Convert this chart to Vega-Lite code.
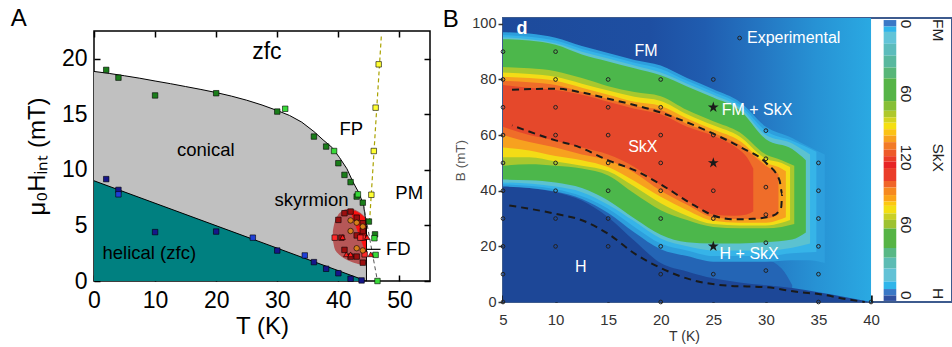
{
  "$schema": "https://vega.github.io/schema/vega-lite/v6.json",
  "background": "white",
  "padding": {"left": 10, "top": 6, "right": 0, "bottom": 0},
  "spacing": 9,
  "title": {"text": "A", "anchor": "start", "frame": "bounds", "fontSize": 24, "fontWeight": "normal", "offset": -24, "dx": -14, "color": "#000"},
  "config": {"font": "Liberation Sans", "view": {"stroke": null}, "axis": {"grid": false, "domain": false, "zindex": 1}},
  "datasets": {
    "bands": [
      {"lv":"m","T":5,"hi":43,"lo":0},{"lv":"m","T":10,"hi":41,"lo":0},{"lv":"m","T":12.5,"hi":38,"lo":0},{"lv":"m","T":15,"hi":33,"lo":0},{"lv":"m","T":17.5,"hi":27,"lo":0},{"lv":"m","T":20,"hi":20,"lo":0},{"lv":"m","T":22.5,"hi":17,"lo":0},{"lv":"m","T":25,"hi":15,"lo":0},{"lv":"m","T":27.5,"hi":15,"lo":0},{"lv":"m","T":30,"hi":15,"lo":0},{"lv":"m","T":31.5,"hi":12,"lo":0},{"lv":"m","T":32.5,"hi":6,"lo":0},
      {"lv":"H","T":5,"hi":42,"lo":0},{"lv":"H","T":7.5,"hi":41,"lo":0},{"lv":"H","T":10,"hi":39.5,"lo":0},{"lv":"H","T":12.5,"hi":36.5,"lo":0},{"lv":"H","T":15,"hi":30.5,"lo":0},{"lv":"H","T":17.5,"hi":22,"lo":0},{"lv":"H","T":20,"hi":14,"lo":0},{"lv":"H","T":22.5,"hi":11,"lo":0},{"lv":"H","T":25,"hi":8.5,"lo":0},{"lv":"H","T":27.5,"hi":7,"lo":0},{"lv":"H","T":30,"hi":6,"lo":0},{"lv":"H","T":32.5,"hi":5,"lo":0},{"lv":"H","T":35,"hi":3.5,"lo":0},{"lv":"H","T":37.5,"hi":1.8,"lo":0},{"lv":"H","T":40,"hi":0,"lo":0},
      {"lv":"h1","T":5,"hi":97,"lo":41.5},{"lv":"h1","T":7.5,"hi":96.5,"lo":41},{"lv":"h1","T":10,"hi":95,"lo":39.7},{"lv":"h1","T":12.5,"hi":92,"lo":37},{"lv":"h1","T":15,"hi":89.5,"lo":32},{"lv":"h1","T":17.5,"hi":87,"lo":25},{"lv":"h1","T":20,"hi":85,"lo":19},{"lv":"h1","T":22.5,"hi":80.5,"lo":16.5},{"lv":"h1","T":25,"hi":76.5,"lo":14.5},{"lv":"h1","T":27.5,"hi":72,"lo":14.5},{"lv":"h1","T":30,"hi":63,"lo":14.5},{"lv":"h1","T":32.5,"hi":59,"lo":15},{"lv":"h1","T":34,"hi":56,"lo":15},{"lv":"h1","T":35.6,"hi":53,"lo":14},
      {"lv":"h2","T":5,"hi":96,"lo":42.3},{"lv":"h2","T":10,"hi":94,"lo":40.5},{"lv":"h2","T":12.5,"hi":91,"lo":38},{"lv":"h2","T":15,"hi":88.5,"lo":33.5},{"lv":"h2","T":17.5,"hi":86,"lo":27},{"lv":"h2","T":20,"hi":83.8,"lo":21},{"lv":"h2","T":22.5,"hi":79.5,"lo":18.5},{"lv":"h2","T":25,"hi":75.5,"lo":16.5},{"lv":"h2","T":27.5,"hi":71,"lo":16.5},{"lv":"h2","T":30,"hi":61.5,"lo":16.5},{"lv":"h2","T":32.5,"hi":58,"lo":17.5},{"lv":"h2","T":34.8,"hi":54,"lo":18},
      {"lv":"h3","T":5,"hi":95.2,"lo":43},{"lv":"h3","T":10,"hi":93,"lo":41.5},{"lv":"h3","T":12.5,"hi":90,"lo":39.5},{"lv":"h3","T":15,"hi":87.5,"lo":35},{"lv":"h3","T":17.5,"hi":85,"lo":29},{"lv":"h3","T":20,"hi":82.5,"lo":22.8},{"lv":"h3","T":22.5,"hi":78.5,"lo":20},{"lv":"h3","T":25,"hi":74.5,"lo":18.5},{"lv":"h3","T":27.5,"hi":70,"lo":18.5},{"lv":"h3","T":30,"hi":60,"lo":18.5},{"lv":"h3","T":32.5,"hi":57,"lo":19.5},{"lv":"h3","T":34.2,"hi":53,"lo":21},
      {"lv":"g","T":5,"hi":94.5,"lo":44},{"lv":"g","T":7.5,"hi":94,"lo":43.8},{"lv":"g","T":10,"hi":92.5,"lo":43},{"lv":"g","T":12.5,"hi":89,"lo":41},{"lv":"g","T":15,"hi":86.5,"lo":36.5},{"lv":"g","T":17.5,"hi":84,"lo":30},{"lv":"g","T":20,"hi":81.5,"lo":24.2},{"lv":"g","T":22.5,"hi":77.5,"lo":21.5},{"lv":"g","T":25,"hi":73.5,"lo":21},{"lv":"g","T":27.5,"hi":69,"lo":21},{"lv":"g","T":30,"hi":58.5,"lo":21.5},{"lv":"g","T":32.5,"hi":55,"lo":22.5},{"lv":"g","T":33.8,"hi":51,"lo":25},
      {"lv":"yg","T":5,"hi":84.5,"lo":49},{"lv":"yg","T":7.5,"hi":84,"lo":49.5},{"lv":"yg","T":10,"hi":83,"lo":49},{"lv":"yg","T":12.5,"hi":80.5,"lo":48},{"lv":"yg","T":15,"hi":77.6,"lo":45.5},{"lv":"yg","T":17.5,"hi":75.5,"lo":39},{"lv":"yg","T":20,"hi":74,"lo":33},{"lv":"yg","T":22.5,"hi":69,"lo":29.5},{"lv":"yg","T":25,"hi":65,"lo":27},{"lv":"yg","T":27.5,"hi":61,"lo":26.5},{"lv":"yg","T":30,"hi":53,"lo":26.5},{"lv":"yg","T":31.5,"hi":51,"lo":27},{"lv":"yg","T":32.7,"hi":49,"lo":28},
      {"lv":"y","T":5,"hi":82.5,"lo":52},{"lv":"y","T":7.5,"hi":82,"lo":52},{"lv":"y","T":10,"hi":81,"lo":50.5},{"lv":"y","T":12.5,"hi":78.5,"lo":49},{"lv":"y","T":15,"hi":76,"lo":47},{"lv":"y","T":17.5,"hi":73.8,"lo":41.5},{"lv":"y","T":20,"hi":72.3,"lo":35.5},{"lv":"y","T":22.5,"hi":67.5,"lo":31},{"lv":"y","T":25,"hi":63.5,"lo":28},{"lv":"y","T":27.5,"hi":59.5,"lo":27.5},{"lv":"y","T":30,"hi":51.5,"lo":27.5},{"lv":"y","T":31.5,"hi":50,"lo":28.5},{"lv":"y","T":32.3,"hi":48.5,"lo":29.5},
      {"lv":"o","T":5,"hi":81,"lo":55.5},{"lv":"o","T":7.5,"hi":80.5,"lo":54.5},{"lv":"o","T":10,"hi":79.5,"lo":52.5},{"lv":"o","T":12.5,"hi":77,"lo":51},{"lv":"o","T":15,"hi":74.5,"lo":48.5},{"lv":"o","T":17.5,"hi":72,"lo":43.5},{"lv":"o","T":20,"hi":70.5,"lo":37.8},{"lv":"o","T":22.5,"hi":66,"lo":33},{"lv":"o","T":25,"hi":62,"lo":29.2},{"lv":"o","T":27.5,"hi":58,"lo":28.5},{"lv":"o","T":30,"hi":50,"lo":28.5},{"lv":"o","T":31.2,"hi":48.5,"lo":29.5},{"lv":"o","T":31.9,"hi":47,"lo":30.5},
      {"lv":"or","T":5,"hi":79.5,"lo":60},{"lv":"or","T":7.5,"hi":79,"lo":57.5},{"lv":"or","T":10,"hi":78,"lo":55.5},{"lv":"or","T":12.5,"hi":75.5,"lo":53},{"lv":"or","T":15,"hi":73,"lo":51},{"lv":"or","T":17.5,"hi":70.5,"lo":46.5},{"lv":"or","T":20,"hi":69,"lo":40},{"lv":"or","T":22.5,"hi":64,"lo":35},{"lv":"or","T":25,"hi":60.8,"lo":30.5},{"lv":"or","T":27.5,"hi":56.5,"lo":29.8},{"lv":"or","T":30,"hi":49,"lo":30},{"lv":"or","T":31.2,"hi":46,"lo":31.5},
      {"lv":"r","T":5,"hi":78,"lo":63},{"lv":"r","T":7.5,"hi":77,"lo":60},{"lv":"r","T":10,"hi":76.2,"lo":58},{"lv":"r","T":12.5,"hi":74.5,"lo":55.5},{"lv":"r","T":15,"hi":72,"lo":53},{"lv":"r","T":17.5,"hi":69.5,"lo":48.5},{"lv":"r","T":20,"hi":67.5,"lo":42},{"lv":"r","T":22.5,"hi":63,"lo":36.5},{"lv":"r","T":25,"hi":59.8,"lo":31.5},{"lv":"r","T":27,"hi":56,"lo":31},{"lv":"r","T":28.2,"hi":52,"lo":31.5},{"lv":"r","T":28.8,"hi":48,"lo":32.5}
    ]
  },
  "hconcat": [
    {
      "spacing": 9,
      "vconcat": [
        {"width": 336, "height": 2, "data": {"values": []}, "mark": {"type": "point"}, "encoding": {}},
        {
          "width": 336,
          "height": 250,
          "view": {"stroke": "#000", "strokeWidth": 1.5},
          "layer": [
            {
              "data": {"values": [{"T":0,"H":18.86},{"T":2.5,"H":18.68},{"T":5,"H":18.47},{"T":7.5,"H":18.25},{"T":10,"H":18.0},{"T":12.5,"H":17.76},{"T":15,"H":17.5},{"T":17.5,"H":17.24},{"T":20,"H":16.96},{"T":22.5,"H":16.64},{"T":25,"H":16.27},{"T":27.5,"H":15.84},{"T":30,"H":15.34},{"T":32,"H":14.9},{"T":34,"H":14.3},{"T":36,"H":13.45},{"T":37.5,"H":12.7},{"T":39,"H":12.0},{"T":40.2,"H":11.1},{"T":41.4,"H":10.1},{"T":42.4,"H":8.9},{"T":43.3,"H":8.0},{"T":44.1,"H":6.9},{"T":44.6,"H":5.0},{"T":44.6,"H":0}]},
              "mark": {"type": "area", "color": "#c0c0c0"},
              "encoding": {
                "x": {"field": "T", "type": "quantitative", "scale": {"domain": [0, 55], "nice": false, "zero": false},
                      "axis": {"orient": "bottom", "values": [0,10,20,30,40,50], "title": "T (K)", "titleFontSize": 24, "titleFontWeight": "normal", "titleColor": "#000", "titlePadding": 2, "labelFontSize": 23, "labelColor": "#000", "labelPadding": 14, "tickSize": -6, "tickWidth": 1.5, "tickColor": "#000", "labelFlush": false}},
                "y": {"field": "H", "type": "quantitative", "scale": {"domain": [0, 22.5], "nice": false},
                      "axis": {"orient": "left", "values": [0,5,10,15,20], "title": "μ₀Hᵢₙₜ (mT)", "titleFontSize": 24, "titleFontWeight": "normal", "titleColor": "#000", "titlePadding": 12, "labelFontSize": 23, "labelColor": "#000", "labelPadding": 13, "tickSize": -6, "tickWidth": 1.5, "tickColor": "#000", "labelFlush": false}}
              }
            },
            {
              "data": {"values": [{"T":0,"H":9.02},{"T":44.6,"H":0}]},
              "mark": {"type": "area", "color": "#008080"},
              "encoding": {"x": {"field": "T", "type": "quantitative", "axis": null}, "y": {"field": "H", "type": "quantitative", "axis": null}}
            },
            {
              "data": {"values": [{"T":39.1,"hi":4.5,"lo":3.7},{"T":39.4,"hi":5.3,"lo":2.9},{"T":39.9,"hi":5.9,"lo":2.5},{"T":40.5,"hi":6.25,"lo":2.2},{"T":41.2,"hi":6.45,"lo":1.95},{"T":42,"hi":6.5,"lo":1.75},{"T":42.8,"hi":6.4,"lo":1.6},{"T":43.6,"hi":6.15,"lo":1.5},{"T":44.2,"hi":5.85,"lo":1.5},{"T":44.6,"hi":5.6,"lo":1.55}]},
              "mark": {"type": "area", "color": "#b65757", "interpolate": "monotone"},
              "encoding": {"x": {"field": "T", "type": "quantitative", "axis": null}, "y": {"field": "hi", "type": "quantitative", "axis": null}, "y2": {"field": "lo"}}
            },
            {
              "data": {"values": [{"T":42.0,"hi":6.35,"lo":6.2},{"T":42.8,"hi":6.3,"lo":5.0},{"T":43.6,"hi":6.05,"lo":3.8},{"T":44.6,"hi":5.6,"lo":2.4}]},
              "mark": {"type": "area", "color": "#ff1010"},
              "encoding": {"x": {"field": "T", "type": "quantitative", "axis": null}, "y": {"field": "hi", "type": "quantitative", "axis": null}, "y2": {"field": "lo"}}
            },
            {
              "data": {"values": [{"T":0,"H":18.86},{"T":2.5,"H":18.68},{"T":5,"H":18.47},{"T":7.5,"H":18.25},{"T":10,"H":18.0},{"T":12.5,"H":17.76},{"T":15,"H":17.5},{"T":17.5,"H":17.24},{"T":20,"H":16.96},{"T":22.5,"H":16.64},{"T":25,"H":16.27},{"T":27.5,"H":15.84},{"T":30,"H":15.34},{"T":32,"H":14.9},{"T":34,"H":14.3},{"T":36,"H":13.45},{"T":37.5,"H":12.7},{"T":39,"H":12.0},{"T":40.2,"H":11.1},{"T":41.4,"H":10.1},{"T":42.4,"H":8.9},{"T":43.3,"H":8.0},{"T":44.1,"H":6.9},{"T":44.6,"H":5.0},{"T":44.6,"H":0}]},
              "mark": {"type": "line", "color": "#000", "strokeWidth": 1},
              "encoding": {
                "x": {"field": "T", "type": "quantitative", "axis": {"orient": "top", "values": [0,10,20,30,40,50], "labels": false, "title": null, "tickSize": -6, "tickWidth": 1.5, "tickColor": "#000"}},
                "y": {"field": "H", "type": "quantitative", "axis": {"orient": "right", "values": [0,5,10,15,20], "labels": false, "title": null, "tickSize": -6, "tickWidth": 1.5, "tickColor": "#000"}}
              }
            },
            {
              "data": {"values": [{"T":0,"H":9.02},{"T":44.6,"H":0}]},
              "mark": {"type": "line", "color": "#000", "strokeWidth": 1},
              "encoding": {"x": {"field": "T", "type": "quantitative", "axis": null}, "y": {"field": "H", "type": "quantitative", "axis": null}}
            },
            {
              "data": {"values": [{"T":44.1,"H":6.9},{"T":46.4,"H":0}]},
              "mark": {"type": "line", "color": "#555", "strokeWidth": 1, "strokeDash": [4, 3]},
              "encoding": {"x": {"field": "T", "type": "quantitative", "axis": null}, "y": {"field": "H", "type": "quantitative", "axis": null}}
            },
            {
              "data": {"values": [{"T":45.1,"H":5.3},{"T":47.05,"H":22.2}]},
              "mark": {"type": "line", "color": "#aaa200", "strokeWidth": 1.2, "strokeDash": [4, 3]},
              "encoding": {"x": {"field": "T", "type": "quantitative", "axis": null}, "y": {"field": "H", "type": "quantitative", "axis": null}}
            },
            {
              "data": {"values": [{"T":44.6,"H":2.85},{"T":46.9,"H":2.85}]},
              "mark": {"type": "line", "color": "#000", "strokeWidth": 1.2},
              "encoding": {"x": {"field": "T", "type": "quantitative", "axis": null}, "y": {"field": "H", "type": "quantitative", "axis": null}}
            },
            {
              "data": {"values": [
                {"k":"dg","T":2,"H":19.0},{"k":"dg","T":4,"H":18.3},{"k":"dg","T":10,"H":16.7},{"k":"dg","T":20,"H":16.9},{"k":"dg","T":30,"H":15.25},{"k":"dg","T":36,"H":13.0},{"k":"dg","T":38,"H":12.1},{"k":"dg","T":40,"H":10.6},{"k":"dg","T":41,"H":9.55},{"k":"dg","T":42,"H":8.9},{"k":"dg","T":43,"H":7.6},{"k":"dg","T":44,"H":7.05},{"k":"dg","T":45,"H":5.35},{"k":"dg","T":46,"H":4.2},
                {"k":"lg","T":31.3,"H":15.5},{"k":"lg","T":39.3,"H":11.7},{"k":"lg","T":43.2,"H":7.8},{"k":"lg","T":45.9,"H":3.85},{"k":"lg","T":46.1,"H":2.35},{"k":"lg","T":46.4,"H":0},
                {"k":"ye","T":46.6,"H":19.5},{"k":"ye","T":46.1,"H":15.6},{"k":"ye","T":45.8,"H":11.7},{"k":"ye","T":45.4,"H":7.76},
                {"k":"nb","T":2,"H":9.17},{"k":"nb","T":4,"H":8.2},{"k":"nb","T":10,"H":4.4},{"k":"nb","T":20,"H":4.45},{"k":"nb","T":30,"H":2.74},{"k":"nb","T":36,"H":1.7},{"k":"nb","T":38,"H":1.1},{"k":"nb","T":40,"H":0.7},{"k":"nb","T":42,"H":0.2},{"k":"nb","T":43.8,"H":0.05},
                {"k":"bl","T":4,"H":7.8},{"k":"bl","T":26,"H":3.9},{"k":"bl","T":34.5,"H":2.3},
                {"k":"dr","T":40,"H":5.5},{"k":"dr","T":41,"H":6.1},{"k":"dr","T":42,"H":6.25},{"k":"dr","T":43,"H":5.7},{"k":"dr","T":44,"H":5.2},{"k":"dr","T":44,"H":4.5},{"k":"dr","T":40.5,"H":3.9},{"k":"dr","T":41,"H":2.8},{"k":"dr","T":42,"H":2.2},{"k":"dr","T":43,"H":2.2},{"k":"dr","T":44,"H":1.65},{"k":"dr","T":43,"H":4.1},
                {"k":"rd","T":39.4,"H":3.9},{"k":"rd","T":44,"H":3.9},{"k":"rd","T":43.6,"H":3.9},{"k":"rd","T":44.3,"H":2.4},
                {"k":"oc","T":42,"H":5.45},{"k":"oc","T":43,"H":5.25},{"k":"oc","T":42,"H":4.5},{"k":"oc","T":44,"H":4.9},{"k":"oc","T":43,"H":2.95},{"k":"oc","T":44,"H":2.75},
                {"k":"rt","T":40.7,"H":3.95},{"k":"rt","T":41.3,"H":2.4},{"k":"rt","T":42,"H":2.4},{"k":"rt","T":44.7,"H":3.95},{"k":"rt","T":45.3,"H":2.4}
              ]},
              "mark": {"type": "point", "filled": true, "stroke": "#000", "strokeWidth": 0.6, "size": 30, "opacity": 1},
              "encoding": {
                "x": {"field": "T", "type": "quantitative", "axis": null},
                "y": {"field": "H", "type": "quantitative", "axis": null},
                "fill": {"field": "k", "type": "nominal", "legend": null, "scale": {"domain": ["dg","lg","ye","nb","bl","dr","rd","oc","rt"], "range": ["#1a7d1a","#39d939","#ffff33","#16168a","#1f3fd6","#9c0f0f","#ff2a2a","#d97f1a","#ff1a1a"]}},
                "shape": {"field": "k", "type": "nominal", "legend": null, "scale": {"domain": ["dg","lg","ye","nb","bl","dr","rd","oc","rt"], "range": ["square","square","square","square","square","square","square","circle","triangle-up"]}}
              }
            },
            {
              "data": {"values": [{"T":28.3,"H":20.6,"txt":"zfc"}]},
              "mark": {"type": "text", "fontSize": 23, "color": "#000", "align": "center", "baseline": "middle"},
              "encoding": {"x": {"field": "T", "type": "quantitative", "axis": null}, "y": {"field": "H", "type": "quantitative", "axis": null}, "text": {"field": "txt"}}
            },
            {
              "data": {"values": [{"T":42.1,"H":13.65,"txt":"FP"},{"T":18.3,"H":11.8,"txt":"conical"},{"T":35.6,"H":7.3,"txt":"skyrmion"},{"T":51.6,"H":7.95,"txt":"PM"},{"T":9.05,"H":2.5,"txt":"helical (zfc)"},{"T":49.8,"H":2.85,"txt":"FD"}]},
              "mark": {"type": "text", "fontSize": 18.5, "color": "#000", "align": "center", "baseline": "middle"},
              "encoding": {"x": {"field": "T", "type": "quantitative", "axis": null}, "y": {"field": "H", "type": "quantitative", "axis": null}, "text": {"field": "txt"}}
            }
          ]
        }
      ]
    },
    {
      "width": 449,
      "height": 284,
      "title": {"text": "B", "anchor": "start", "frame": "bounds", "fontSize": 24, "fontWeight": "normal", "offset": -16, "dx": -11, "color": "#000"},
      "view": {"stroke": "#3d5b8e", "strokeWidth": 2},
      "resolve": {"scale": {"x": "independent", "y": "independent"}},
      "layer": [
        {
          "data": {"values": [{}]},
          "mark": {"type": "rect", "fill": {"x1": 0, "y1": 0, "x2": 1, "y2": 0, "gradient": "linear", "stops": [{"offset": 0, "color": "#1d4a9b"}, {"offset": 0.4, "color": "#1e4fa2"}, {"offset": 0.55, "color": "#205db0"}, {"offset": 0.7, "color": "#2476c2"}, {"offset": 0.85, "color": "#2792d4"}, {"offset": 1, "color": "#2aa9e2"}]}},
          "encoding": {
            "x": {"datum": 5, "type": "quantitative", "scale": {"domain": [5, 47.7], "nice": false, "zero": false}, "axis": null},
            "x2": {"datum": 40},
            "y": {"datum": 0, "type": "quantitative", "scale": {"domain": [0, 102.1], "nice": false, "zero": false}, "axis": null},
            "y2": {"datum": 102.1}
          }
        },
        {"data": {"name": "bands"}, "transform": [{"filter": "datum.lv === 'm'"}], "mark": {"type": "area", "color": "#2465b5", "interpolate": "monotone"},
         "encoding": {
           "x": {"field": "T", "type": "quantitative", "scale": {"domain": [5, 47.7], "nice": false, "zero": false},
                 "axis": {"orient": "bottom", "values": [5,10,15,20,25,30,35,40], "title": "T (K)", "titleFontSize": 14, "titleFontWeight": "normal", "titleColor": "#333", "titlePadding": 2, "titleX": 181, "titleAlign": "center", "labelFontSize": 15, "labelColor": "#333", "labelPadding": 17, "tickSize": -7, "tickWidth": 2.5, "tickColor": "#111", "labelFlush": false}},
           "y": {"field": "hi", "type": "quantitative", "scale": {"domain": [0, 102.1], "nice": false, "zero": false},
                 "axis": {"orient": "left", "values": [0,20,40,60,80,100], "title": "B (mT)", "titleFontSize": 13.5, "titleFontWeight": "normal", "titleColor": "#555", "titlePadding": 4, "labelFontSize": 14.5, "labelColor": "#333", "labelPadding": 2, "tickSize": 5, "tickWidth": 1.5, "tickColor": "#333"}},
           "y2": {"field": "lo"}}},
        {"data": {"name": "bands"}, "transform": [{"filter": "datum.lv === 'H'"}], "mark": {"type": "area", "color": "#1d4797", "interpolate": "monotone"}, "encoding": {"x": {"field": "T", "type": "quantitative", "scale": {"domain": [5, 47.7], "nice": false, "zero": false}, "axis": null}, "y": {"field": "hi", "type": "quantitative", "scale": {"domain": [0, 102.1], "nice": false, "zero": false}, "axis": null}, "y2": {"field": "lo"}}},
        {"data": {"name": "bands"}, "transform": [{"filter": "datum.lv === 'h1'"}], "mark": {"type": "area", "color": "#2d9fdd", "interpolate": "monotone"}, "encoding": {"x": {"field": "T", "type": "quantitative", "scale": {"domain": [5, 47.7], "nice": false, "zero": false}, "axis": null}, "y": {"field": "hi", "type": "quantitative", "scale": {"domain": [0, 102.1], "nice": false, "zero": false}, "axis": null}, "y2": {"field": "lo"}}},
        {"data": {"name": "bands"}, "transform": [{"filter": "datum.lv === 'h2'"}], "mark": {"type": "area", "color": "#36b4e8", "interpolate": "monotone"}, "encoding": {"x": {"field": "T", "type": "quantitative", "scale": {"domain": [5, 47.7], "nice": false, "zero": false}, "axis": null}, "y": {"field": "hi", "type": "quantitative", "scale": {"domain": [0, 102.1], "nice": false, "zero": false}, "axis": null}, "y2": {"field": "lo"}}},
        {"data": {"name": "bands"}, "transform": [{"filter": "datum.lv === 'h3'"}], "mark": {"type": "area", "color": "#5cc2d0", "interpolate": "monotone"}, "encoding": {"x": {"field": "T", "type": "quantitative", "scale": {"domain": [5, 47.7], "nice": false, "zero": false}, "axis": null}, "y": {"field": "hi", "type": "quantitative", "scale": {"domain": [0, 102.1], "nice": false, "zero": false}, "axis": null}, "y2": {"field": "lo"}}},
        {"data": {"name": "bands"}, "transform": [{"filter": "datum.lv === 'g'"}], "mark": {"type": "area", "color": "#4cb74b", "interpolate": "monotone"}, "encoding": {"x": {"field": "T", "type": "quantitative", "scale": {"domain": [5, 47.7], "nice": false, "zero": false}, "axis": null}, "y": {"field": "hi", "type": "quantitative", "scale": {"domain": [0, 102.1], "nice": false, "zero": false}, "axis": null}, "y2": {"field": "lo"}}},
        {"data": {"name": "bands"}, "transform": [{"filter": "datum.lv === 'yg'"}], "mark": {"type": "area", "color": "#a8c82e", "interpolate": "monotone"}, "encoding": {"x": {"field": "T", "type": "quantitative", "scale": {"domain": [5, 47.7], "nice": false, "zero": false}, "axis": null}, "y": {"field": "hi", "type": "quantitative", "scale": {"domain": [0, 102.1], "nice": false, "zero": false}, "axis": null}, "y2": {"field": "lo"}}},
        {"data": {"name": "bands"}, "transform": [{"filter": "datum.lv === 'y'"}], "mark": {"type": "area", "color": "#f3dc16", "interpolate": "monotone"}, "encoding": {"x": {"field": "T", "type": "quantitative", "scale": {"domain": [5, 47.7], "nice": false, "zero": false}, "axis": null}, "y": {"field": "hi", "type": "quantitative", "scale": {"domain": [0, 102.1], "nice": false, "zero": false}, "axis": null}, "y2": {"field": "lo"}}},
        {"data": {"name": "bands"}, "transform": [{"filter": "datum.lv === 'o'"}], "mark": {"type": "area", "color": "#f7a11f", "interpolate": "monotone"}, "encoding": {"x": {"field": "T", "type": "quantitative", "scale": {"domain": [5, 47.7], "nice": false, "zero": false}, "axis": null}, "y": {"field": "hi", "type": "quantitative", "scale": {"domain": [0, 102.1], "nice": false, "zero": false}, "axis": null}, "y2": {"field": "lo"}}},
        {"data": {"name": "bands"}, "transform": [{"filter": "datum.lv === 'or'"}], "mark": {"type": "area", "color": "#ef6d29", "interpolate": "monotone"}, "encoding": {"x": {"field": "T", "type": "quantitative", "scale": {"domain": [5, 47.7], "nice": false, "zero": false}, "axis": null}, "y": {"field": "hi", "type": "quantitative", "scale": {"domain": [0, 102.1], "nice": false, "zero": false}, "axis": null}, "y2": {"field": "lo"}}},
        {"data": {"name": "bands"}, "transform": [{"filter": "datum.lv === 'r'"}], "mark": {"type": "area", "color": "#e5482b", "interpolate": "monotone"}, "encoding": {"x": {"field": "T", "type": "quantitative", "scale": {"domain": [5, 47.7], "nice": false, "zero": false}, "axis": null}, "y": {"field": "hi", "type": "quantitative", "scale": {"domain": [0, 102.1], "nice": false, "zero": false}, "axis": null}, "y2": {"field": "lo"}}},
        {
          "data": {"values": [{"i":0,"T":5.86,"B":76.3},{"i":1,"T":10,"B":76.7},{"i":2,"T":12.25,"B":75.5},{"i":3,"T":15,"B":73.1},{"i":4,"T":19.84,"B":68.3},{"i":5,"T":23.2,"B":63.5},{"i":6,"T":25,"B":60.5},{"i":7,"T":27.56,"B":55.7},{"i":8,"T":30.1,"B":49.7},{"i":9,"T":31.3,"B":43.7},{"i":10,"T":31.55,"B":38.9},{"i":11,"T":31.46,"B":34.1},{"i":12,"T":30.7,"B":31.1},{"i":13,"T":28.8,"B":29.9},{"i":14,"T":26.94,"B":29.7},{"i":15,"T":25,"B":31.1},{"i":16,"T":23.2,"B":34.7},{"i":17,"T":19.9,"B":42.5},{"i":18,"T":17.56,"B":47.3},{"i":19,"T":15,"B":50.9},{"i":20,"T":12.25,"B":55.7},{"i":21,"T":10,"B":58.1},{"i":22,"T":5.86,"B":63.5}]},
          "mark": {"type": "line", "color": "#1a1a1a", "strokeWidth": 2, "strokeDash": [7, 5], "interpolate": "monotone"},
          "encoding": {"x": {"field": "T", "type": "quantitative", "scale": {"domain": [5, 47.7], "nice": false, "zero": false}, "axis": null}, "y": {"field": "B", "type": "quantitative", "scale": {"domain": [0, 102.1], "nice": false, "zero": false}, "axis": null}, "order": {"field": "i"}}
        },
        {
          "data": {"values": [{"T":5.6,"B":34.7},{"T":10,"B":31.7},{"T":12.57,"B":29.3},{"T":15,"B":24.5},{"T":17.56,"B":17.3},{"T":19.84,"B":12.5},{"T":23.2,"B":7.7},{"T":26.3,"B":5.9},{"T":30.1,"B":5.3},{"T":33.2,"B":3.5},{"T":35,"B":2.9},{"T":37.55,"B":1.1},{"T":39.4,"B":0}]},
          "mark": {"type": "line", "color": "#1a1a1a", "strokeWidth": 2, "strokeDash": [7, 5], "interpolate": "monotone"},
          "encoding": {"x": {"field": "T", "type": "quantitative", "scale": {"domain": [5, 47.7], "nice": false, "zero": false}, "axis": null}, "y": {"field": "B", "type": "quantitative", "scale": {"domain": [0, 102.1], "nice": false, "zero": false}, "axis": null}}
        },
        {
          "data": {"values": [
            {"T":5,"B":0},{"T":5,"B":10},{"T":5,"B":20},{"T":5,"B":30},{"T":5,"B":40},{"T":5,"B":50},{"T":5,"B":60},{"T":5,"B":70},{"T":5,"B":80},{"T":5,"B":90},
            {"T":10,"B":20},{"T":10,"B":30},{"T":10,"B":40},{"T":10,"B":50},{"T":10,"B":60},{"T":10,"B":70},{"T":10,"B":80},{"T":10,"B":90},
            {"T":15,"B":20},{"T":15,"B":30},{"T":15,"B":40},{"T":15,"B":50},{"T":15,"B":60},{"T":15,"B":70},{"T":15,"B":80},
            {"T":20,"B":0},{"T":20,"B":10},{"T":20,"B":20},{"T":20,"B":30},{"T":20,"B":40},{"T":20,"B":50},{"T":20,"B":60},{"T":20,"B":70},{"T":20,"B":80},
            {"T":25,"B":10},{"T":25,"B":30},{"T":25,"B":40},{"T":25,"B":60},{"T":25,"B":80},
            {"T":30,"B":11.3},{"T":30,"B":21.3},{"T":30,"B":31.4},{"T":30,"B":41.3},{"T":30,"B":51.5},{"T":30,"B":61.6},
            {"T":35,"B":0},{"T":35,"B":10},{"T":35,"B":20},{"T":35,"B":30},{"T":35,"B":40},{"T":35,"B":50},
            {"T":40,"B":0},
            {"T":27.5,"B":94.9}
          ]},
          "mark": {"type": "point", "shape": "circle", "filled": false, "stroke": "#222", "strokeWidth": 1, "size": 14, "opacity": 1},
          "encoding": {"x": {"field": "T", "type": "quantitative", "scale": {"domain": [5, 47.7], "nice": false, "zero": false}, "axis": null}, "y": {"field": "B", "type": "quantitative", "scale": {"domain": [0, 102.1], "nice": false, "zero": false}, "axis": null}}
        },
        {
          "data": {"values": [{"T":25,"B":70},{"T":25,"B":50},{"T":25,"B":20}]},
          "mark": {"type": "point", "shape": "M0,-1L0.2245,-0.309L0.9511,-0.309L0.3633,0.118L0.5878,0.809L0,0.382L-0.5878,0.809L-0.3633,0.118L-0.9511,-0.309L-0.2245,-0.309Z", "filled": true, "color": "#1a1a1a", "size": 130, "opacity": 1},
          "encoding": {"x": {"field": "T", "type": "quantitative", "scale": {"domain": [5, 47.7], "nice": false, "zero": false}, "axis": null}, "y": {"field": "B", "type": "quantitative", "scale": {"domain": [0, 102.1], "nice": false, "zero": false}, "axis": null}}
        },
        {
          "data": {"values": [{"T":28.2,"B":94.9,"txt":"Experimental"},{"T":25.8,"B":69.2,"txt":"FM + SkX"},{"T":25.6,"B":17.1,"txt":"H + SkX"}]},
          "mark": {"type": "text", "fontSize": 16, "color": "#ffffff", "align": "left", "baseline": "middle"},
          "encoding": {"x": {"field": "T", "type": "quantitative", "scale": {"domain": [5, 47.7], "nice": false, "zero": false}, "axis": null}, "y": {"field": "B", "type": "quantitative", "scale": {"domain": [0, 102.1], "nice": false, "zero": false}, "axis": null}, "text": {"field": "txt"}}
        },
        {
          "data": {"values": [{"T":18.6,"B":90.3,"txt":"FM"},{"T":18.3,"B":55.7,"txt":"SkX"},{"T":12.4,"B":12.5,"txt":"H"}]},
          "mark": {"type": "text", "fontSize": 16, "color": "#ffffff", "align": "center", "baseline": "middle"},
          "encoding": {"x": {"field": "T", "type": "quantitative", "scale": {"domain": [5, 47.7], "nice": false, "zero": false}, "axis": null}, "y": {"field": "B", "type": "quantitative", "scale": {"domain": [0, 102.1], "nice": false, "zero": false}, "axis": null}, "text": {"field": "txt"}}
        },
        {
          "data": {"values": [{"T":6.8,"B":98.3,"txt":"d"}]},
          "mark": {"type": "text", "fontSize": 18, "fontWeight": "bold", "color": "#ffffff", "align": "center", "baseline": "middle"},
          "encoding": {"x": {"field": "T", "type": "quantitative", "scale": {"domain": [5, 47.7], "nice": false, "zero": false}, "axis": null}, "y": {"field": "B", "type": "quantitative", "scale": {"domain": [0, 102.1], "nice": false, "zero": false}, "axis": null}, "text": {"field": "txt"}}
        },
        {
          "data": {"values": [
            {"c":0,"u0":0,"u1":6},{"c":1,"u0":6,"u1":11},{"c":2,"u0":11,"u1":22},{"c":3,"u0":22,"u1":33},{"c":4,"u0":33,"u1":44},{"c":5,"u0":44,"u1":54},{"c":6,"u0":54,"u1":75},{"c":7,"u0":75,"u1":84},{"c":8,"u0":84,"u1":90},{"c":9,"u0":90,"u1":95},{"c":10,"u0":95,"u1":101},{"c":11,"u0":101,"u1":107},{"c":12,"u0":107,"u1":113},{"c":13,"u0":113,"u1":120},{"c":14,"u0":120,"u1":126},{"c":15,"u0":126,"u1":131},{"c":16,"u0":131,"u1":137},{"c":17,"u0":137,"u1":149},{"c":18,"u0":149,"u1":155},{"c":19,"u0":155,"u1":162},{"c":20,"u0":162,"u1":168},{"c":21,"u0":168,"u1":172},{"c":22,"u0":172,"u1":179},{"c":23,"u0":179,"u1":185},{"c":24,"u0":185,"u1":193},{"c":25,"u0":193,"u1":211},{"c":26,"u0":211,"u1":220},{"c":27,"u0":220,"u1":230},{"c":28,"u0":230,"u1":242},{"c":29,"u0":242,"u1":249},{"c":30,"u0":249,"u1":255},{"c":31,"u0":255,"u1":260}
          ]},
          "mark": {"type": "rect"},
          "encoding": {
            "x": {"datum": 41.2, "type": "quantitative", "scale": {"domain": [5, 47.7], "nice": false, "zero": false}, "axis": null},
            "x2": {"datum": 42.4},
            "y": {"field": "u0", "type": "quantitative", "scale": {"domain": [-1.9, 261], "reverse": true, "nice": false, "zero": false}, "axis": null},
            "y2": {"field": "u1"},
            "color": {"field": "c", "type": "ordinal", "legend": null, "scale": {"range": ["#3a78c6","#2fb5ea","#62c4d8","#5cbcbc","#58b89e","#57b678","#56b447","#86bf35","#aec82c","#d3d421","#f5df11","#fbc215","#f8a11f","#f27a27","#ee5a2a","#eb3c28","#e72325","#ea3c29","#f06428","#f6891f","#fba418","#fcc810","#f3df13","#c9d025","#9dc231","#56b445","#58b885","#5cbcb4","#62c2d6","#2fb5ea","#3a78c6","#3050a0"]}}
          }
        },
        {
          "data": {"values": [{"u":3.7,"t":"0"},{"u":68.3,"t":"60"},{"u":127.4,"t":"120"},{"u":189.5,"t":"60"},{"u":254.7,"t":"0"}]},
          "mark": {"type": "text", "angle": 90, "fontSize": 15.5, "color": "#222", "align": "center", "baseline": "middle"},
          "encoding": {"x": {"datum": 43.33, "type": "quantitative", "scale": {"domain": [5, 47.7], "nice": false, "zero": false}, "axis": null}, "y": {"field": "u", "type": "quantitative", "scale": {"domain": [-1.9, 261], "reverse": true, "nice": false, "zero": false}, "axis": null}, "text": {"field": "t"}}
        },
        {
          "data": {"values": [{"u":9.3,"t":"FM"},{"u":127.4,"t":"SkX"},{"u":253.2,"t":"H"}]},
          "mark": {"type": "text", "angle": 90, "fontSize": 15.5, "color": "#222", "align": "center", "baseline": "middle"},
          "encoding": {"x": {"datum": 46.37, "type": "quantitative", "scale": {"domain": [5, 47.7], "nice": false, "zero": false}, "axis": null}, "y": {"field": "u", "type": "quantitative", "scale": {"domain": [-1.9, 261], "reverse": true, "nice": false, "zero": false}, "axis": null}, "text": {"field": "t"}}
        }
      ]
    }
  ]
}
